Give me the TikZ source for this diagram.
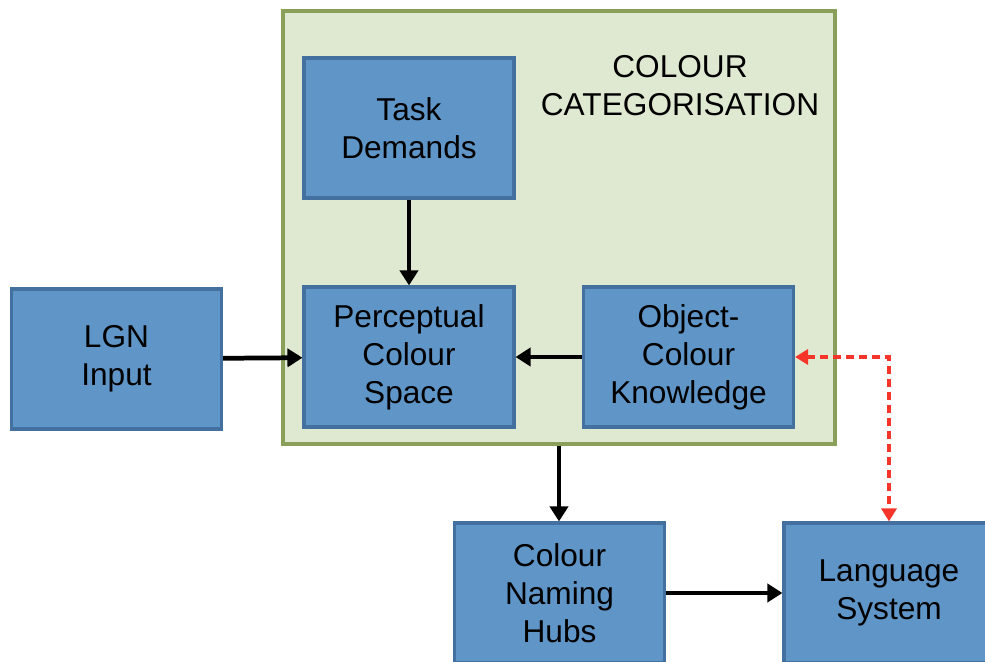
\documentclass[tikz,border=0pt]{standalone}
\usepackage{fontspec}
\setmainfont{Liberation Sans}
\usetikzlibrary{arrows.meta}
\definecolor{boxblue}{HTML}{5F95C7}
\definecolor{boxedge}{HTML}{44709F}
\definecolor{catfill}{HTML}{DFE9D2}
\definecolor{catedge}{HTML}{8A9F5A}
\definecolor{linkred}{HTML}{F5352A}

\begin{document}
\begin{tikzpicture}[x=0.02cm,y=-0.02cm,semithick]
        \tikzstyle{block}=[rectangle, fill=boxblue, draw=boxedge, line width=1.8pt, inner sep=0mm, minimum width=4.2cm, minimum height=2.8cm, align=center, font=\fontsize{18}{21.6}\selectfont]
        \tikzstyle{flow}=[-{Triangle[length=3mm,width=3.6mm]}, line width=2.7pt]
        \tikzstyle{link}=[{Triangle[length=2.6mm,width=3mm]}-{Triangle[length=2.6mm,width=3mm]}, line width=2.1pt, draw=linkred, dash pattern=on 1.6mm off 1mm]
        \useasboundingbox (0,0) rectangle (985,662);
        \clip (0,0) rectangle (985,662);

        \node[draw=catedge, fill=catfill, line width=1.9pt, inner sep=0mm, minimum width=11.04cm, minimum height=8.66cm] (Categ) at (559,227.5) {};
        \node[align=center, font=\fontsize{18}{21.6}\selectfont] (Title) at (680,86) {COLOUR\\CATEGORISATION};

        \node[block] (Task) at (409,128) {Task\\Demands};
        \node[block] (Percept) at (409,357) {Perceptual\\Colour\\Space};
        \node[block] (Object) at (688.5,357) {Object-\\Colour\\Knowledge};
        \node[block] (LGN) at (116.5,359) {LGN\\Input};
        \node[block] (Hubs) at (559.5,593) {Colour\\Naming\\Hubs};
        \node[block] (Lang) at (889,593) {Language\\System};

        \draw[flow] (Task) -- (Percept);
        \draw[flow] (LGN) -- (Percept);
        \draw[flow] (Object) -- (Percept);
        \draw[flow] (Categ.south) -- (Hubs.north -| Categ.south);
        \draw[flow] (Hubs) -- (Lang);
        \draw[link] (Object.east) -| (Lang.north);
      \end{tikzpicture}
\end{document}
